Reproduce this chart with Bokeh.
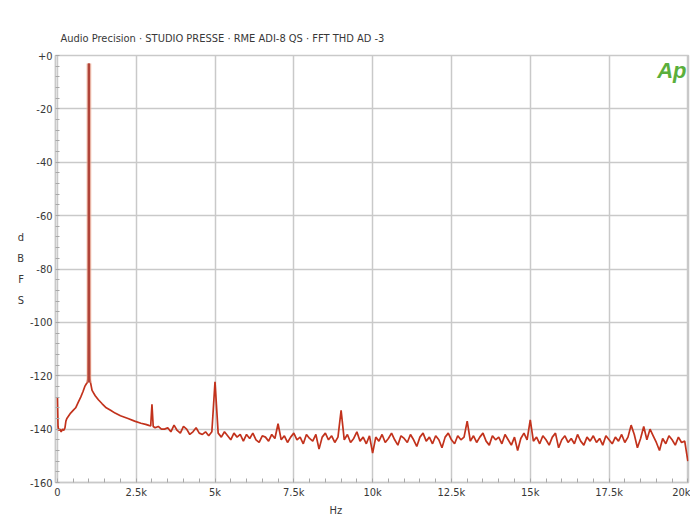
from bokeh.plotting import figure
from bokeh.models import FixedTicker, Label, Range1d, Title
from bokeh.embed import file_html
from bokeh.resources import INLINE

# ---------------- data ----------------
TITLE = "Audio Precision · STUDIO PRESSE · RME ADI-8 QS · FFT THD AD -3"
Y_TICKS = [0, -20, -40, -60, -80, -100, -120, -140, -160]
Y_TICK_LABELS = ["+0", "-20", "-40", "-60", "-80", "-100", "-120", "-140", "-160"]
X_TICKS = [0, 2500, 5000, 7500, 10000, 12500, 15000, 17500, 20000]
X_TICK_LABELS = ["0", "2.5k", "5k", "7.5k", "10k", "12.5k", "15k", "17.5k", "20k"]

# low-frequency part: DC, skirt around the 1 kHz fundamental, 3 kHz harmonic
lf_freq = [0, 20, 40, 80, 120, 160, 200, 240, 270, 300, 360, 420, 500, 580, 660,
           740, 810, 870, 920, 950, 970, 985, 1000, 1015, 1030, 1050, 1100, 1200,
           1300, 1420, 1550, 1700, 1830, 2000, 2240, 2450, 2650, 2800, 2900, 2960,
           3000, 3040, 3100, 3200, 3300]
lf_db = [-128, -139, -140.5, -140, -141, -140, -140.5, -139.5, -137, -136, -135,
         -134, -133, -132, -130, -128, -126, -124, -123, -122.5, -121, -98, -3,
         -100, -121, -122.5, -125.5, -127.5, -129, -130.5, -132, -133, -134, -135,
         -136, -137, -137.8, -138.2, -138.6, -138.8, -130.7, -139, -139.5, -139,
         -140]

# noise floor, one reading per 100 Hz bin from 3.4 kHz to 20 kHz
NOISE_START_HZ = 3400
NOISE_STEP_HZ = 100
noise_db = [
    -140, -139.5, -141, -138.5, -140.5, -141.5, -139, -140, -142, -141,
    -139.5, -141.5, -142, -141, -142.5, -141, -122.3, -141.5, -143, -141,
    -142.5, -144, -141.5, -143, -142, -144.5, -142, -143.5, -141.5, -144,
    -145, -142.5, -143, -144.5, -142, -143.5, -138, -144, -142.5, -145,
    -143, -141.5, -144, -143, -145.5, -142, -143.5, -144.5, -142, -147.5,
    -143, -141.5, -144, -142.5, -145, -143, -133, -144, -142, -145,
    -143.5, -141, -144.5, -143, -145.5, -142.5, -149, -143, -144.5, -142,
    -145, -143.5, -141.5, -144, -146, -142.5, -143.5, -145, -142, -144,
    -146.5, -143, -141.5, -144.5, -143, -145.5, -142.5, -144, -147, -143,
    -141.5, -144, -145.5, -142.5, -144, -143, -137, -144.5, -142.5, -145,
    -143, -141.5, -144.5, -146, -142.5, -144, -143, -145.5, -142, -144,
    -146, -143, -148, -143.5, -141.5, -144, -136.5, -144.5, -143, -145.5,
    -142.5, -144, -146, -143, -141.5, -147, -144, -142.5, -145, -143.5,
    -145.5, -142, -144.5, -146, -143, -144.5, -142.5, -145, -143.5, -146,
    -142.5, -144, -145.5, -143, -144.5, -142, -145, -143, -138.5, -142,
    -147, -143.5, -139, -144, -140, -142.5, -145, -148, -143.5, -145.5,
    -142.5, -144, -146, -143, -145, -144.5, -152,
]
noise_freq = [NOISE_START_HZ + NOISE_STEP_HZ * i for i in range(len(noise_db))]

FUND_HZ = 1000
FUND_DB = -3
FUND_BASE_DB = -122.5

freq = lf_freq + noise_freq
db = lf_db + noise_db

# ---------------- figure ----------------
FONT = "DejaVu Sans Condensed"
TEXT_COL = "#383838"
GRID_COL = "#c9c9c9"
FRAME_H = 426

p = figure(width=690, height=516, output_backend="svg", toolbar_location=None,
           x_range=Range1d(-60, 20020), y_range=Range1d(-160, 0),
           min_border_left=55, min_border_right=2, min_border_top=55,
           min_border_bottom=28, background_fill_color="white",
           border_fill_color="white")
p.outline_line_color = GRID_COL
p.outline_line_width = 1.5

p.xaxis.ticker = FixedTicker(ticks=X_TICKS, minor_ticks=list(range(0, 20001, 500)))
p.yaxis.ticker = FixedTicker(ticks=Y_TICKS, minor_ticks=list(range(-160, 1, 4)))
p.xaxis.major_label_overrides = {t: l for t, l in zip(X_TICKS, X_TICK_LABELS)}
p.yaxis.major_label_overrides = {t: l for t, l in zip(Y_TICKS, Y_TICK_LABELS)}

for ax in (p.xaxis, p.yaxis):
    ax.axis_line_color = GRID_COL
    ax.axis_line_width = 1.5
    ax.major_tick_in = 0
    ax.major_tick_out = 0
    ax.minor_tick_in = 4
    ax.minor_tick_out = 0
    ax.minor_tick_line_color = "#a8a8a8"
    ax.major_label_text_font = FONT
    ax.major_label_text_font_size = "11px"
    ax.major_label_text_color = TEXT_COL
p.yaxis.major_label_standoff = 3
p.xaxis.major_label_standoff = 3
p.xaxis.axis_label_standoff = 0

# stacked "dBFS" label left of the tick labels
p.yaxis.axis_label = "d\nB\nF\nS"
p.yaxis.axis_label_orientation = "horizontal"
p.yaxis.axis_label_text_font = FONT
p.yaxis.axis_label_text_font_size = "11px"
p.yaxis.axis_label_text_font_style = "normal"
p.yaxis.axis_label_text_color = TEXT_COL
p.yaxis.axis_label_text_line_height = 1.6
p.yaxis.axis_label_standoff = 3

p.grid.grid_line_color = GRID_COL
p.grid.grid_line_width = 1.5

# trace
p.line(freq, db, line_color="#c2321c", line_width=1.7)
# thicker fundamental stem
p.segment(x0=[FUND_HZ], y0=[FUND_BASE_DB], x1=[FUND_HZ], y1=[FUND_DB],
          line_color="#f2b49a", line_width=5, line_alpha=0.6)
p.segment(x0=[FUND_HZ], y0=[FUND_BASE_DB], x1=[FUND_HZ], y1=[FUND_DB],
          line_color="#b0443a", line_width=2.6)

# title above, "Hz" below
p.add_layout(Title(text=TITLE, align="left", offset=5, text_font=FONT,
                   text_font_size="11px", text_font_style="normal",
                   text_color=TEXT_COL, standoff=21), "above")
p.add_layout(Title(text="Hz", align="left", offset=274, text_font=FONT,
                   text_font_size="11px", text_font_style="normal",
                   text_color=TEXT_COL, standoff=0, text_line_height=0.7), "below")

p.add_layout(Label(x=631, y=FRAME_H - 14, x_units="screen", y_units="screen",
                   text="Ap", text_font="Liberation Sans", text_font_size="22px",
                   text_font_style="bold italic", text_color="#5aaf3c",
                   text_align="right", text_baseline="middle"))

open("out.html", "w").write(file_html(p, INLINE))
